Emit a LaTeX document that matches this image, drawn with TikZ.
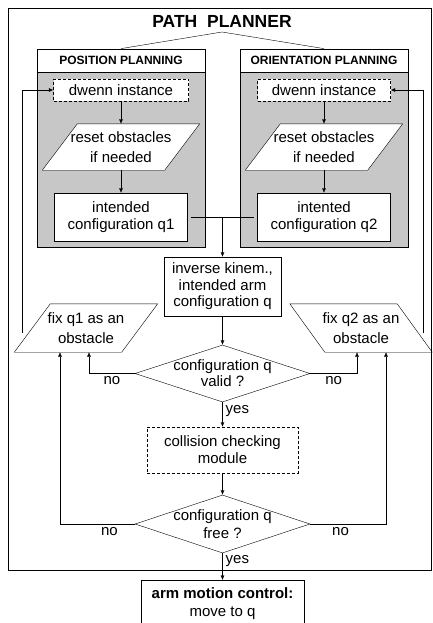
\documentclass[tikz,border=0pt]{standalone}
\usepackage{fontspec}
\setmainfont{Liberation Sans}
\usetikzlibrary{arrows.meta,shapes.geometric,calc}
\pgfdeclarelayer{panels}
\pgfdeclarelayer{background}
\pgfsetlayers{panels,background,main}

% outline of a slanted box round a named node
\newcommand{\slantframe}[2]{%
  \begin{pgfonlayer}{background}
    \filldraw[fill=white] ([xshift=#2]#1.north west) -- ([xshift=#2]#1.north east)
      -- ([xshift={-(#2)}]#1.south east) -- ([xshift={-(#2)}]#1.south west) -- cycle;
  \end{pgfonlayer}}

\begin{document}
\begin{tikzpicture}[x=1pt,y=-1pt,line width=0.75pt,
    >={Latex[length=4.5pt,width=4pt]},
    font=\fontsize{15}{17}\selectfont,
    box/.style={draw,fill=white,align=center,inner sep=0pt},
    dbox/.style={box,dash pattern=on 3pt off 2pt},
    slantbox/.style={align=center,inner sep=0pt,font=\fontsize{15}{20.5}\selectfont},
    head/.style={box,font=\bfseries\fontsize{12}{14}\selectfont,minimum width=168pt,minimum height=23pt},
    panel/.style={draw,fill=black!22,minimum width=168pt,minimum height=175pt,inner sep=0pt},
    decide/.style={diamond,draw,fill=white,inner sep=0pt,minimum width=175pt,minimum height=57pt},
    lbl/.style={inner sep=3pt}]
  \useasboundingbox (0,0) rectangle (433,623);

  % frame and title
  \draw (8,8) rectangle (431,570);
  \node[font=\bfseries\fontsize{17.5}{20}\selectfont] (title) at (222,21.5) {PATH\ \ PLANNER};
  \coordinate (apex) at (222,32);

  % the two planners
  \node[head] (hpos) at (121,60.5) {POSITION PLANNING};
  \node[head] (hori) at (324,60.5) {ORIENTATION PLANNING};
  \begin{pgfonlayer}{panels}
    \node[panel,anchor=north] (ppos) at (hpos.south) {};
    \node[panel,anchor=north] (pori) at (hori.south) {};
  \end{pgfonlayer}
  \draw (hpos.north) -- (apex) -- (hori.north);

  \node[dbox,minimum width=135pt,minimum height=22pt] (dwa) at (121,90) {dwenn instance};
  \node[slantbox,minimum width=122pt,minimum height=46pt] (rsa) at (121,147) {reset obstacles\\if needed};
  \node[box,minimum width=133pt,minimum height=48pt] (ica) at (121,217) {intended\\configuration q1};
  \slantframe{rsa}{17.5pt}

  \node[dbox,minimum width=133pt,minimum height=22pt] (dwb) at (324,90) {dwenn instance};
  \node[slantbox,minimum width=122pt,minimum height=46pt] (rsb) at (324,147) {reset obstacles\\if needed};
  \node[box,minimum width=133pt,minimum height=48pt] (icb) at (324,217) {intented\\configuration q2};
  \slantframe{rsb}{17.5pt}

  \draw[->] (dwa) -- (rsa);
  \draw[->] (rsa) -- (ica);
  \draw[->] (dwb) -- (rsb);
  \draw[->] (rsb) -- (icb);

  % arm configuration and checks
  \node[box,minimum width=117pt,minimum height=59pt,font=\fontsize{15}{16.5}\selectfont] (ik) at (222.5,286.5) {inverse kinem.,\\intended arm\\configuration q};
  \draw[shorten <=3pt,shorten >=3pt] (ica.east) -- (icb.west);
  \draw[->] (ik.north |- ica.east) -- (ik);

  \node[slantbox,minimum width=107pt,minimum height=48pt] (fxa) at (86,328) {fix q1 as an\\obstacle};
  \node[slantbox,minimum width=107pt,minimum height=48pt] (fxb) at (361,328) {fix q2 as an\\obstacle};
  \slantframe{fxa}{18pt}
  \slantframe{fxb}{-17.5pt}

  \node[decide,label={[align=center,font=\fontsize{15}{16}\selectfont]center:{configuration q\\valid ?}}] (dv) at (222.5,373.5) {};
  \draw[->] (ik) -- (dv);
  \draw[->] (dv.west) -| node[lbl,below,pos=0.25] {no} ([xshift=3pt]fxa.south);
  \draw[->] (dv.east) -| node[lbl,below,pos=0.25] {no} ([xshift=-4pt]fxb.south);

  \node[dbox,minimum width=151pt,minimum height=46pt] (cc) at (222.5,450) {collision checking\\module};
  \draw[->] (dv) -- node[lbl,right,pos=0.35] {yes} (cc);

  \node[decide,minimum height=58pt,label={[align=center,font=\fontsize{15}{18}\selectfont]center:{configuration q\\free ?}}] (df) at (222.5,524) {};
  \draw[->] (cc) -- (df);
  \draw[->] (df.west) -| node[lbl,below,pos=0.17] {no} ([xshift=-26pt]fxa.south);
  \draw[->] (df.east) -| node[lbl,below,pos=0.2] {no} ([xshift=25pt]fxb.south);

  % loops back to the planners
  \coordinate (upa) at (22,333);
  \coordinate (upb) at (423,333);
  \draw[->] (upa) |- (dwa);
  \draw[->] (upb) |- (dwb);

  % motion control, cut at the bottom
  \node[anchor=north,align=center,inner xsep=0pt,inner ysep=7pt,minimum width=162pt,font=\fontsize{15}{18}\selectfont] (arm) at (222.5,580) {{\bfseries arm motion control:}\\move to q};
  \draw[->] (df) -- node[lbl,right,pos=0.3] {yes} (arm);
  \draw ([yshift=-20pt]arm.south west) |- (arm.north east) -- ([yshift=-20pt]arm.south east);
\end{tikzpicture}
\end{document}
